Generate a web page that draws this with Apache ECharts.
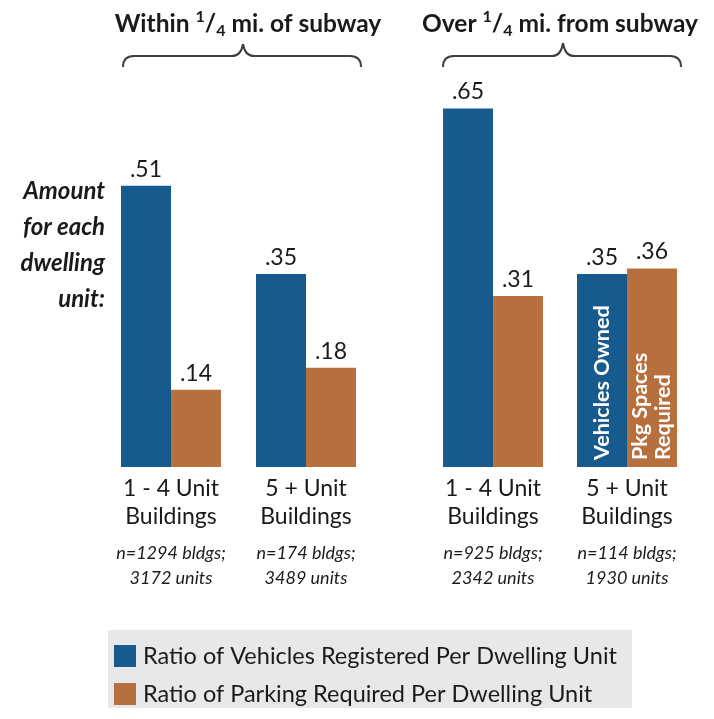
<!DOCTYPE html>
<html>
<head>
<meta charset="utf-8">
<script src="https://cdn.jsdelivr.net/npm/echarts@6/dist/echarts.min.js"></script>
<style>
  html, body { margin: 0; padding: 0; background: #fff; }
  #chart { width: 714px; height: 719px; }
</style>
</head>
<body>
<div id="chart"></div>
<script>
// Building types shown under each pair of bars
const buildingTypes = ['1 - 4 Unit', '5 + Unit'];
// Sample sizes for each distance group
const nearSamples = [['n=1294 bldgs;', '3172 units'], ['n=174 bldgs;', '3489 units']];
const farSamples = [['n=925 bldgs;', '2342 units'], ['n=114 bldgs;', '1930 units']];

// Ratios per dwelling unit
const vehiclesNear = [0.51, 0.35];
const parkingNear = [0.14, 0.18];
const vehiclesFar = [0.65, 0.35];
const parkingFar = [0.31, 0.36];

const seriesNames = ['Ratio of Vehicles Registered Per Dwelling Unit', 'Ratio of Parking Required Per Dwelling Unit'];
// Captions written inside the far-group 5+ unit bars
const innerCaptions = ['Vehicles Owned', 'Pkg Spaces\nRequired'];

const BLUE = '#175B8E';
const ORANGE = '#B86F3E';
const FONT = 'Lato';
const INK = '#1a1a1a';

const chart = echarts.init(document.getElementById('chart'));

function catLabel(samples) {
  return function (value, idx) {
    const s = samples[idx];
    return '{a|' + value + '}\n{a|Buildings}\n{s| }\n{n|' + s[0] + '}\n{n|' + s[1] + '}';
  };
}

const xLabelRich = {
  a: { fontFamily: FONT, fontSize: 23, lineHeight: 28, color: INK },
  s: { fontSize: 8, lineHeight: 10 },
  n: { fontFamily: FONT, fontSize: 18, fontStyle: 'italic', lineHeight: 25, color: INK }
};

function xAxisFor(gridIndex, samples, hidden) {
  return {
    type: 'category', gridIndex, data: buildingTypes, show: !hidden,
    axisLine: { show: false }, axisTick: { show: false },
    axisLabel: { margin: 8, formatter: catLabel(samples), rich: xLabelRich, interval: 0 }
  };
}

function yAxisFor(gridIndex) {
  return { type: 'value', gridIndex, min: 0, max: 0.7, show: false, splitLine: { show: false } };
}

const valueLabel = {
  show: true, position: 'top', distance: 5,
  fontFamily: FONT, fontSize: 23, color: INK,
  formatter: p => p.value.toFixed(2).slice(1)
};

function barSeries(name, data, color, idx) {
  return {
    type: 'bar', name, data,
    xAxisIndex: idx, yAxisIndex: idx,
    barWidth: 50, barGap: '0%',
    itemStyle: { color },
    label: valueLabel,
    emphasis: { disabled: true }
  };
}

// Transparent twin bars on an overlaid grid that carry the rotated captions
function captionSeries(data, caption) {
  return {
    type: 'bar', data: data.map((v, i) => i === 1 ? {
      value: v,
      label: {
        show: true, position: 'insideBottom', distance: 7, rotate: 90,
        align: 'left', verticalAlign: 'middle', lineHeight: 23,
        fontFamily: FONT, fontWeight: 'bold', fontSize: 21.5, color: '#fff',
        formatter: caption
      }
    } : v),
    xAxisIndex: 2, yAxisIndex: 2,
    barWidth: 50, barGap: '0%', silent: true, z: 5,
    itemStyle: { color: 'rgba(0,0,0,0)' },
    label: { show: false },
    emphasis: { disabled: true }
  };
}

// Curly brace made of curves and straight runs
function brace(x0, xm, x1, yTip, yLine, yEnd) {
  const st = { stroke: '#404040', lineWidth: 2, fill: null };
  const r = 11;
  return {
    type: 'group',
    children: [
      { type: 'bezierCurve', shape: { x1: x0, y1: yEnd, cpx1: x0, cpy1: yLine, x2: x0 + r, y2: yLine }, style: st },
      { type: 'line', shape: { x1: x0 + r, y1: yLine, x2: xm - r, y2: yLine }, style: st },
      { type: 'bezierCurve', shape: { x1: xm - r, y1: yLine, cpx1: xm - 2, cpy1: yLine, x2: xm, y2: yTip }, style: st },
      { type: 'bezierCurve', shape: { x1: xm, y1: yTip, cpx1: xm + 2, cpy1: yLine, x2: xm + r, y2: yLine }, style: st },
      { type: 'line', shape: { x1: xm + r, y1: yLine, x2: x1 - r, y2: yLine }, style: st },
      { type: 'bezierCurve', shape: { x1: x1 - r, y1: yLine, cpx1: x1, cpy1: yLine, x2: x1, y2: yEnd }, style: st }
    ]
  };
}

const titleRich = {
  b: { fontFamily: FONT, fontWeight: 'bold', fontSize: 24.5, lineHeight: 30, fill: INK },
  sup: { fontFamily: FONT, fontWeight: 'bold', fontSize: 16, lineHeight: 30, verticalAlign: 'top', fill: INK },
  sub: { fontFamily: FONT, fontWeight: 'bold', fontSize: 16, lineHeight: 30, verticalAlign: 'bottom', fill: INK }
};

const gridBox = { top: 81, height: 386 };

chart.setOption({
  animation: false,
  grid: [
    Object.assign({ left: 103.5, width: 270 }, gridBox),
    Object.assign({ left: 426, width: 268 }, gridBox),
    Object.assign({ left: 426, width: 268 }, gridBox)
  ],
  xAxis: [xAxisFor(0, nearSamples), xAxisFor(1, farSamples), xAxisFor(2, farSamples, true)],
  yAxis: [yAxisFor(0), yAxisFor(1), yAxisFor(2)],
  legend: {
    data: seriesNames,
    orient: 'vertical', left: 114, top: 644, padding: 0,
    itemWidth: 22, itemHeight: 22, itemGap: 14,
    icon: 'rect', selectedMode: false,
    textStyle: { fontFamily: FONT, fontSize: 23.5, color: INK, padding: [0, 0, 0, 2] }
  },
  graphic: [
    { type: 'rect', z: -10, shape: { x: 108, y: 630, width: 524, height: 78 }, style: { fill: '#E7E8EA' } },
    {
      type: 'text', x: 248, y: 24,
      style: { text: '{b|Within }{sup|1}{b|/}{sub|4}{b| mi. of subway}', align: 'center', verticalAlign: 'middle', rich: titleRich }
    },
    {
      type: 'text', x: 560, y: 24,
      style: { text: '{b|Over }{sup|1}{b|/}{sub|4}{b| mi. from subway}', align: 'center', verticalAlign: 'middle', rich: titleRich }
    },
    brace(123, 243, 361, 44, 56, 67),
    brace(443, 563, 681, 43, 56, 67),
    {
      type: 'text', x: 105, y: 173,
      style: {
        text: 'Amount\nfor each\ndwelling\nunit:',
        align: 'right', verticalAlign: 'top',
        fontFamily: FONT, fontWeight: 'bold', fontStyle: 'italic', fontSize: 24, lineHeight: 36,
        fill: INK
      }
    }
  ],
  series: [
    barSeries(seriesNames[0], vehiclesNear, BLUE, 0),
    barSeries(seriesNames[1], parkingNear, ORANGE, 0),
    barSeries(seriesNames[0], vehiclesFar, BLUE, 1),
    barSeries(seriesNames[1], parkingFar, ORANGE, 1),
    captionSeries(vehiclesFar, innerCaptions[0]),
    captionSeries(parkingFar, innerCaptions[1])
  ]
});
</script>
</body>
</html>
